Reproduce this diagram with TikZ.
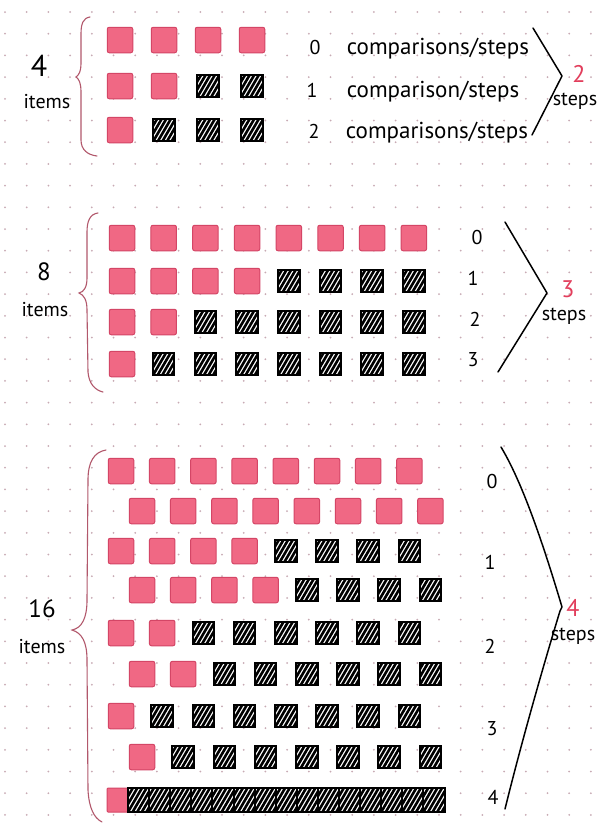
\documentclass[tikz,border=0pt]{standalone}
\usepackage{fontspec}
\setmainfont{PT Sans}
\usepackage{xcolor}
\usepackage{tikz}
\usetikzlibrary{positioning}

\definecolor{pinkfill}{RGB}{240,104,132}
\definecolor{pinkedge}{RGB}{212,70,102}
\definecolor{dotcol}{RGB}{200,170,180}
\definecolor{bracecol}{RGB}{178,88,108}
\definecolor{countred}{RGB}{226,62,92}

\begin{document}
\begin{tikzpicture}[x=1pt,y=-1pt,font=\fontsize{20}{24}\selectfont]
        \tikzstyle{pinkbox}=[draw=pinkedge,fill=pinkfill,line width=1pt,rounded corners=2pt,minimum size=25.5pt,inner sep=0pt]
        \tikzstyle{hatchbox}=[draw=black,fill=white,line width=2pt,minimum width=21.5pt,minimum height=22.5pt,inner sep=0pt,
          path picture={\foreach \k in {-4,...,6}
            \draw[black,line width=2.6pt] ([xshift=\k*4.6pt]path picture bounding box.south west) -- ++(14pt,24pt);}]
        \tikzstyle{bigcount}=[font=\fontsize{30}{32}\selectfont,inner sep=1pt]
        \tikzstyle{midcount}=[font=\fontsize{25}{28}\selectfont,inner sep=1pt]
        \tikzstyle{redcount}=[text=countred,font=\fontsize{24}{26}\selectfont,inner sep=1pt]
        \tikzstyle{stepword}=[inner sep=1pt]
        \tikzstyle{stepnum}=[inner sep=1pt]
        \tikzstyle{hand}=[font=\fontsize{23}{26}\selectfont,inner sep=1pt]
        \tikzstyle{curly}=[draw=bracecol,line width=1.1pt,line cap=round]
        \tikzstyle{angle}=[draw=black,line width=1.5pt,line cap=round,line join=round]
        \clip (0,0) rectangle (600,827);
        \fill[white] (0,0) rectangle (600,827);
        % dotted paper
        \foreach \i in {0,...,27}
          \foreach \j in {0,...,38}
            \fill[dotcol] (5+\i*21.7,12+\j*21.7) circle (1pt);
        % 4 items
        \foreach \r/\y/\np in {1/40/4,2/86/2,3/130/1}
          \foreach \c in {1,...,4} {
            \pgfmathsetmacro\x{120+44*(\c-1)}
            \ifnum\c>\np \node[hatchbox] (four-\r-\c) at (\x,\y) {};
            \else \node[pinkbox] (four-\r-\c) at (\x,\y) {}; \fi
          }
        \node[bigcount] (four-n) at (39,66) {4};
        \node (four-items) at (47,102) {items};
        \draw[curly] (90,17) .. controls (83,18) and (81,24) .. (81,34) -- (81,64)
          .. controls (81,71) and (79,75) .. (76,77) .. controls (79,79) and (81,83) .. (81,92)
          -- (81,140) .. controls (81,150) and (88,155) .. (97,156);
        \node[stepnum] (four-s0) at (315,47) {0};
        \node[stepnum] (four-s1) at (312,90) {1};
        \node[stepnum] (four-s2) at (314,131) {2};
        \node[hand,base right=24pt of four-s0] (four-t0) {comparisons/steps};
        \node[hand,base right=27pt of four-s1] (four-t1) {comparison/steps};
        \node[hand,base right=24pt of four-s2] (four-t2) {comparisons/steps};
        \draw[angle] (533,28) -- (562,76) -- (532,135);
        \node[redcount] (four-count) at (579,74) {2};
        \node[stepword,below=8pt of four-count,xshift=-4pt] (four-steps) {steps};
        % 8 items
        \foreach \r/\y/\np in {1/238/8,2/281/4,3/322/2,4/364/1}
          \foreach \c in {1,...,8} {
            \pgfmathsetmacro\x{122+41.7*(\c-1)}
            \ifnum\c>\np \node[hatchbox] (eight-\r-\c) at (\x,\y) {};
            \else \node[pinkbox] (eight-\r-\c) at (\x,\y) {}; \fi
          }
        \node[midcount] (eight-n) at (44,272) {8};
        \node (eight-items) at (45,310) {items};
        \draw[curly] (98,213) .. controls (90,214) and (87,221) .. (87,232) -- (87,278)
          .. controls (87,287) and (84,292) .. (79,293) .. controls (84,295) and (87,300) .. (87,310)
          -- (88,372) .. controls (89,384) and (95,390) .. (103,392);
        \node[stepnum] (eight-s0) at (477,237) {0};
        \node[stepnum] (eight-s1) at (473,278) {1};
        \node[stepnum] (eight-s2) at (475,319) {2};
        \node[stepnum] (eight-s3) at (473,360) {3};
        \draw[angle] (505,222) -- (547,293) -- (498,372);
        \node[redcount] (eight-count) at (568,289) {3};
        \node[stepword,below=8pt of eight-count,xshift=-4pt] (eight-steps) {steps};
        % 16 items
        \foreach \r/\y/\xo/\np in {1/471/121/8,2/511/142/8,3/551/121/4,4/590/142/4,
                                   5/633/121/2,6/674/142/2,7/716/121/1,8/757/142/1}
          \foreach \c in {1,...,8} {
            \pgfmathsetmacro\x{\xo+41.2*(\c-1)}
            \ifnum\c>\np \node[hatchbox] (sixteen-\r-\c) at (\x,\y) {};
            \else \node[pinkbox] (sixteen-\r-\c) at (\x,\y) {}; \fi
          }
        \node[pinkbox,minimum width=21pt,minimum height=24pt,rounded corners=1pt,outer sep=0pt] (sixteen-9-1) at (117.5,800) {};
        \foreach \c [remember=\c as \p (initially 1)] in {2,...,16}
          \node[hatchbox,minimum width=21.1pt,minimum height=24pt,outer sep=0pt,right=0pt of sixteen-9-\p] (sixteen-9-\c) {};
        \node[midcount] (sixteen-n) at (42,609) {16};
        \node (sixteen-items) at (42,647) {items};
        \draw[curly] (106,450) .. controls (94,452) and (88,462) .. (88,480) -- (87,600)
          .. controls (87,618) and (82,628) .. (72,630) .. controls (82,633) and (87,642) .. (87,660)
          -- (88,790) .. controls (89,808) and (94,818) .. (102,822);
        \node[stepnum] (sixteen-s0) at (492,481) {0};
        \node[stepnum] (sixteen-s1) at (490,562) {1};
        \node[stepnum] (sixteen-s2) at (490,646) {2};
        \node[stepnum] (sixteen-s3) at (492,729) {3};
        \node[stepnum] (sixteen-s4) at (493,797) {4};
        \draw[angle] (501,447) .. controls (522,482) and (542,540) .. (562,607)
          -- (560,611) .. controls (545,660) and (522,740) .. (505,809);
        \node[redcount] (sixteen-count) at (573,608) {4};
        \node[stepword,below=9pt of sixteen-count] (sixteen-steps) {steps};
\end{tikzpicture}
\end{document}
